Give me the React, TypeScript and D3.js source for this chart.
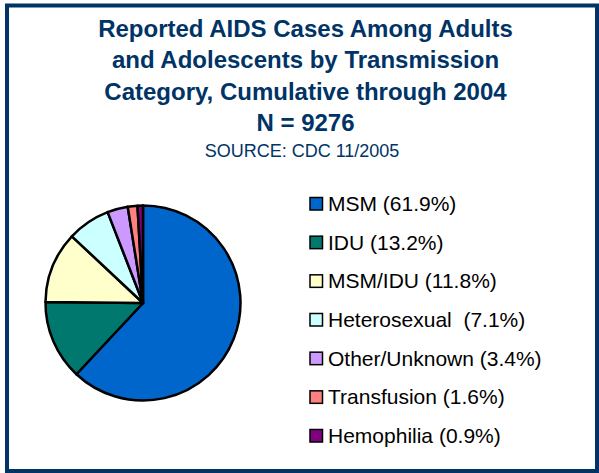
import React from 'react';
import * as d3 from 'd3';

const categories = [
  'MSM',
  'IDU',
  'MSM/IDU',
  'Heterosexual',
  'Other/Unknown',
  'Transfusion',
  'Hemophilia',
];
const shares = [61.9, 13.2, 11.8, 7.1, 3.4, 1.6, 0.9];
const legendLabels = [
  'MSM (61.9%)',
  'IDU (13.2%)',
  'MSM/IDU (11.8%)',
  'Heterosexual  (7.1%)',
  'Other/Unknown (3.4%)',
  'Transfusion (1.6%)',
  'Hemophilia (0.9%)',
];
const sliceColors = [
  '#0066CC',
  '#00786E',
  '#FFFFCC',
  '#CCFFFF',
  '#CC99FF',
  '#FF8080',
  '#800080',
];
const titleLines = [
  'Reported AIDS Cases Among Adults',
  'and Adolescents by Transmission',
  'Category, Cumulative through 2004',
  'N = 9276',
];
const sourceNote = 'SOURCE: CDC 11/2005';

const W = 599;
const H = 473;
const NAVY = '#003366';
const FONT = '"Liberation Sans", Arial, Helvetica, sans-serif';

export default function App() {
  const rows = categories.map((c, i) => ({ c, v: shares[i], label: legendLabels[i] }));

  const pie = d3
    .pie<{ c: string; v: number; label: string }>()
    .sort(null)
    .value((d) => d.v);
  const arcs = pie(rows);

  const radius = 97.5;
  const arc = d3
    .arc<d3.PieArcDatum<{ c: string; v: number; label: string }>>()
    .innerRadius(0)
    .outerRadius(radius);

  const color = d3.scaleOrdinal<string, string>().domain(categories).range(sliceColors);

  // legend rows, baselines from 211 to 443
  const legendY = d3.scalePoint<string>().domain(categories).range([211, 443]);

  const titleY = d3
    .scaleLinear()
    .domain([0, titleLines.length - 1])
    .range([37, 131]);

  return (
    <svg
      width={W}
      height={H}
      viewBox={`0 0 ${W} ${H}`}
      style={{ position: 'absolute', left: 0, top: 0, background: 'white' }}
      fontFamily={FONT}
    >
      <rect x={7} y={5.5} width={590} height={465.5} fill="white" stroke={NAVY} strokeWidth={4} />

      {titleLines.map((t, i) => (
        <text
          key={t}
          x={305.5}
          y={titleY(i)}
          textAnchor="middle"
          fontSize={24}
          fontWeight="bold"
          fill={NAVY}
        >
          {t}
        </text>
      ))}
      <text x={302} y={157} textAnchor="middle" fontSize={18} fill={NAVY}>
        {sourceNote}
      </text>

      <g transform="translate(143,303)">
        {arcs.map((a) => (
          <path
            key={a.data.c}
            d={arc(a) ?? ''}
            fill={color(a.data.c)}
            stroke="black"
            strokeWidth={2.5}
            strokeLinejoin="round"
          />
        ))}
      </g>

      <g>
        {rows.map((r) => {
          const y = legendY(r.c) ?? 0;
          return (
            <g key={r.c}>
              <rect
                x={310}
                y={y - 13.5}
                width={12.5}
                height={12.5}
                fill={color(r.c)}
                stroke="black"
                strokeWidth={1.5}
              />
              <text x={328} y={y} fontSize={21} fill="black" style={{ whiteSpace: 'pre' }}>
                {r.label}
              </text>
            </g>
          );
        })}
      </g>
    </svg>
  );
}
